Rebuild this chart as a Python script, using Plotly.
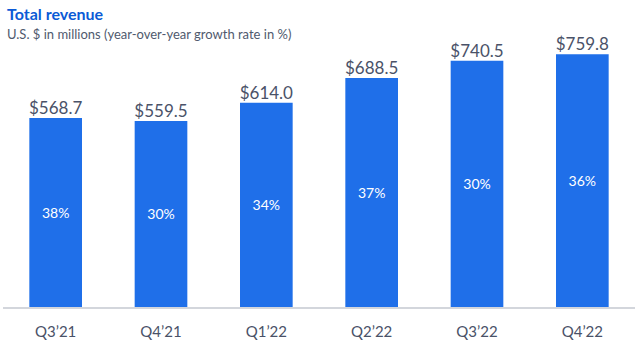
import plotly.graph_objects as go

quarters = ["Q3’21", "Q4’21", "Q1’22", "Q2’22", "Q3’22", "Q4’22"]
revenue = [568.7, 559.5, 614.0, 688.5, 740.5, 759.8]
growth = [38, 30, 34, 37, 30, 36]

value_labels = [f"${v:.1f}" for v in revenue]
growth_labels = [f"{g}%" for g in growth]

FONT = "Lato, 'Noto Sans', sans-serif"
TEXT_GREY = "#4a5268"

W, H = 640, 349
ML, MR, MT, MB = 3, 5, 41, 42
h_plot = H - MT - MB
w_plot = W - ML - MR


def px_to_paper(px, py):
    return (px - ML) / w_plot, 1 + (MT - py) / h_plot


fig = go.Figure()
fig.add_trace(go.Bar(
    x=quarters, y=revenue,
    marker=dict(color="#1f6fe9", line=dict(width=0)),
    width=0.5,
    text=growth_labels,
    textposition="inside",
    insidetextanchor="middle",
    textfont=dict(color="white", size=14, family=FONT),
    hoverinfo="skip",
))
fig.add_trace(go.Scatter(
    x=quarters, y=revenue,
    mode="text",
    text=value_labels,
    textposition="top center",
    textfont=dict(color=TEXT_GREY, size=17, family=FONT),
    cliponaxis=False,
    hoverinfo="skip",
))

tx, ty = px_to_paper(5, 2)
sx, sy = px_to_paper(5, 24)

fig.update_layout(
    width=W, height=H,
    margin=dict(l=ML, r=MR, t=MT, b=MB),
    paper_bgcolor="white", plot_bgcolor="white",
    showlegend=False,
    xaxis=dict(
        showgrid=False, zeroline=False,
        showline=True, linecolor="#d3d6dc", linewidth=1.5,
        ticks="", tickfont=dict(color=TEXT_GREY, size=15, family=FONT),
        ticklabelstandoff=10,
    ),
    yaxis=dict(range=[0, 800], visible=False, showgrid=False, zeroline=False),
    annotations=[
        dict(text="<b>Total revenue</b>", x=tx, y=ty, xref="paper", yref="paper",
             xanchor="left", yanchor="top", showarrow=False,
             font=dict(color="#0b5ad6", size=16, family=FONT)),
        dict(text="U.S. $ in millions (year-over-year growth rate in %)", x=sx, y=sy,
             xref="paper", yref="paper",
             xanchor="left", yanchor="top", showarrow=False,
             font=dict(color="#505a6e", size=13, family=FONT)),
    ],
)

fig.write_html("out.html")
